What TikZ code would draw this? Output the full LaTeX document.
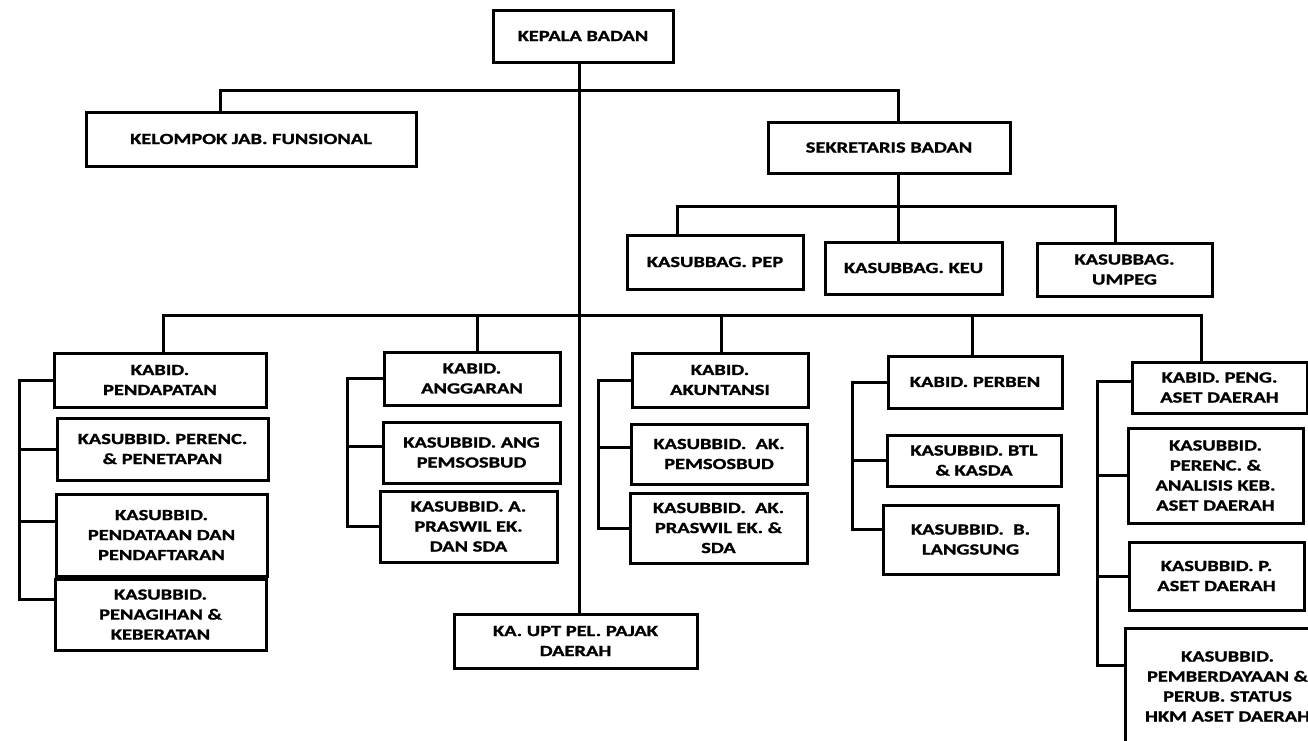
\documentclass[tikz,border=0pt]{standalone}
\usepackage{fontspec}
\setmainfont{Carlito}[FakeStretch=1.32,BoldFeatures={FakeBold=1.2}]
\begin{document}
\begin{tikzpicture}[x=1pt,y=-1pt,
  box/.style={draw=black,line width=3pt,fill=white,inner sep=0pt,align=center,
    font=\bfseries\fontsize{15.5}{20}\selectfont},
  conn/.style={draw=black,line width=3pt,line cap=rect}]
\useasboundingbox (0,0) rectangle (1308,740);
\clip (0,0) rectangle (1308,740);
\fill[white] (0,0) rectangle (1308,740);
\newcommand{\bx}[6]{\node[box,minimum width={#4-#2},minimum height={#5-#3}] (#1) at ({(#2+#4)/2},{(#3+#5)/2}) {#6};}
% top level
\bx{kepala}{493}{10}{673}{62}{KEPALA BADAN}
\bx{kjf}{86}{112}{416}{166}{KELOMPOK JAB. FUNSIONAL}
\bx{sek}{768}{122}{1010}{173}{SEKRETARIS BADAN}
\bx{pep}{627}{235}{803}{289}{KASUBBAG. PEP}
\bx{keu}{825}{242}{1002}{294}{KASUBBAG. KEU}
\bx{umpeg}{1037}{243}{1212}{296}{KASUBBAG.\\UMPEG}
% column 1
\bx{pend}{54}{353}{266}{407}{KABID.\\PENDAPATAN}
\bx{perenc}{57}{418}{268}{480}{KASUBBID. PERENC.\\\& PENETAPAN}
\bx{pendat}{56}{494}{267}{576}{KASUBBID.\\PENDATAAN DAN\\PENDAFTARAN}
\bx{penag}{55}{579}{266}{650}{KASUBBID.\\PENAGIHAN \&\\KEBERATAN}
% column 2
\bx{angg}{384}{352}{560}{405}{KABID.\\ANGGARAN}
\bx{angpem}{383}{422}{560}{483}{KASUBBID. ANG\\PEMSOSBUD}
\bx{apras}{380}{491}{557}{562}{KASUBBID. A.\\PRASWIL EK.\\DAN SDA}
% column 3
\bx{akun}{632}{353}{808}{407}{KABID.\\AKUNTANSI}
\bx{akpem}{631}{424}{807}{484}{KASUBBID.\ \ AK.\\PEMSOSBUD}
\bx{akpras}{630}{493}{807}{563}{KASUBBID.\ \ AK.\\PRASWIL EK. \&\\SDA}
% UPT
\bx{upt}{454}{614}{697}{668}{KA. UPT PEL. PAJAK\\DAERAH}
% column 4
\bx{perben}{888}{356}{1062}{408}{KABID. PERBEN}
\bx{btl}{887}{435}{1061}{486}{KASUBBID. BTL\\\& KASDA}
\bx{blang}{883}{505}{1058}{574}{KASUBBID.\ \ B.\\LANGSUNG}
% column 5
\bx{peng}{1132}{362}{1307}{413}{KABID. PENG.\\ASET DAERAH}
\bx{anal}{1128}{428}{1303}{523}{KASUBBID.\\PERENC. \&\\ANALISIS KEB.\\ASET DAERAH}
\bx{paset}{1129}{542}{1304}{610}{KASUBBID. P.\\ASET DAERAH}
\bx{pemb}{1125}{628}{1330}{745}{KASUBBID.\\PEMBERDAYAAN \&\\PERUB. STATUS\\HKM ASET DAERAH}
% connector coordinates
\coordinate (T) at (579,90);
\coordinate (kx) at (220,90);
\coordinate (sx) at (898,90);
\coordinate (S) at (898,206);
\coordinate (s1) at (677,206);
\coordinate (s3) at (1115,206);
\coordinate (m1) at (163,315);
\coordinate (m2) at (477,315);
\coordinate (m4) at (721,315);
\coordinate (m5) at (972,315);
\coordinate (m6) at (1201,315);
\coordinate (L1) at (19,0);
\coordinate (L2) at (347,0);
\coordinate (L3) at (598,0);
\coordinate (L4) at (852,0);
\coordinate (L5) at (1097,0);
% main spine
\draw[conn] (kepala.south -| T) -- (T |- upt.north);
\draw[conn] (kx |- kjf.north) -- (kx) -- (sx) -- (sx |- sek.north);
\draw[conn] (sek.south -| S) -- (S |- keu.north);
\draw[conn] (s1 |- pep.north) -- (s1) -- (s3) -- (s3 |- umpeg.north);
\draw[conn] (m1 |- pend.north) -- (m1) -- (m6) -- (m6 |- peng.north);
\draw[conn] (m2) -- (m2 |- angg.north);
\draw[conn] (m4) -- (m4 |- akun.north);
\draw[conn] (m5) -- (m5 |- perben.north);
% column 1 bracket
\coordinate (t13) at ([yshift=14pt]pendat.west);
\coordinate (t14) at ([yshift=15pt]penag.west);
\draw[conn] (t14) -- (t14 -| L1) -- (L1 |- pend.west) -- (pend.west);
\draw[conn] (perenc.west) -- (perenc.west -| L1);
\draw[conn] (t13) -- (t13 -| L1);
% column 2 bracket
\coordinate (t22) at ([yshift=6pt]angpem.west);
\draw[conn] (apras.west) -- (apras.west -| L2) -- (L2 |- angg.west) -- (angg.west);
\draw[conn] (t22) -- (t22 -| L2);
% column 3 bracket
\coordinate (t32) at ([yshift=7pt]akpem.west);
\draw[conn] (akpras.west) -- (akpras.west -| L3) -- (L3 |- akun.west) -- (akun.west);
\draw[conn] (t32) -- (t32 -| L3);
% column 4 bracket
\coordinate (t43) at ([yshift=10pt]blang.west);
\draw[conn] (t43) -- (t43 -| L4) -- (L4 |- perben.west) -- (perben.west);
\draw[conn] (btl.west) -- (btl.west -| L4);
% column 5 bracket
\coordinate (t51) at ([yshift=6pt]peng.west);
\coordinate (t54) at ([yshift=-39pt]pemb.north west);
\draw[conn] (t54) -- (t54 -| L5) -- (L5 |- t51) -- (t51);
\draw[conn] (anal.west) -- (anal.west -| L5);
\draw[conn] (paset.west) -- (paset.west -| L5);
\end{tikzpicture}
\end{document}
